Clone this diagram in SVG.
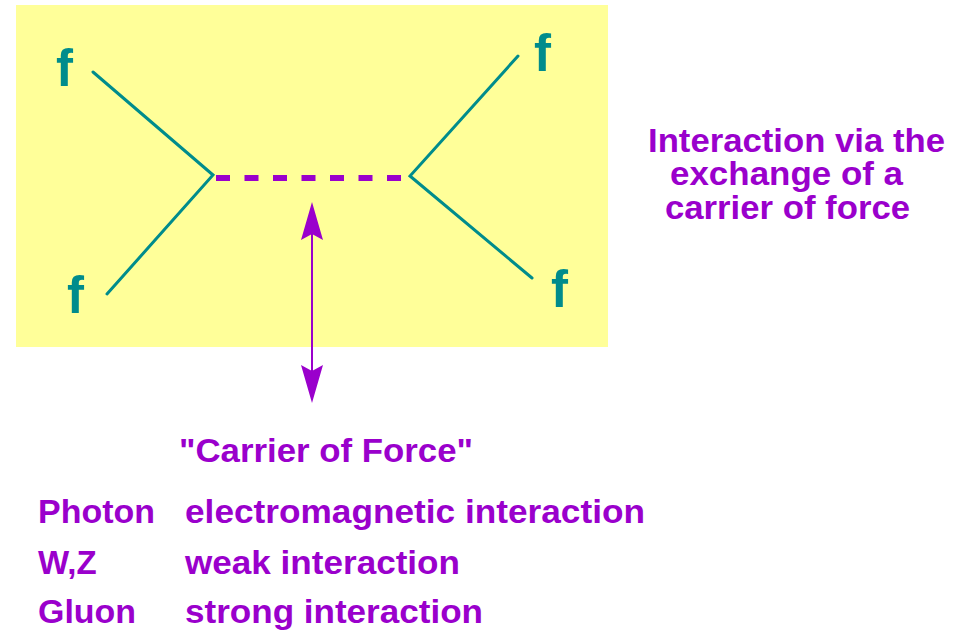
<svg xmlns="http://www.w3.org/2000/svg" width="965" height="630" viewBox="0 0 965 630">
<defs>
<style>
.teal{stroke:#008C8C;stroke-width:3;fill:none;stroke-linecap:round}
.f{font-family:"Liberation Sans",Arial,sans-serif;font-weight:bold;font-size:51px;fill:#008C8C}
.t{font-family:"Liberation Sans",Arial,sans-serif;font-weight:bold;font-size:33px;fill:#9A00CC}
.r{font-family:"Liberation Sans",Arial,sans-serif;font-weight:bold;font-size:33px;fill:#9A00CC}
</style>
<marker id="ah" viewBox="0 0 38 22" markerUnits="userSpaceOnUse" markerWidth="38" markerHeight="22" refX="30" refY="11" orient="auto-start-reverse">
<path d="M0,0 L38,11 L0,22 L6,11 z" fill="#9A00CC"/>
</marker>
</defs>
<rect x="16" y="5" width="592" height="342" fill="#FFFF99"/>
<g id="fermion-lines">
<g id="f-upper-left"><text class="f" x="56" y="86">f</text></g>
<g id="f-lower-left"><text class="f" x="67" y="313">f</text></g>
<g id="f-upper-right"><text class="f" x="534" y="71">f</text></g>
<g id="f-lower-right"><text class="f" x="551" y="307">f</text></g>
</g>
<g id="connectors">
<path class="teal" d="M93,72 L213,175 L107,294"/>
<path class="teal" d="M518,56 L410,176 L532,278"/>
<line x1="216" y1="178" x2="401" y2="178" stroke="#9A00CC" stroke-width="6" stroke-dasharray="14 14.5"/>
<line x1="312" y1="210" x2="312" y2="395" stroke="#9A00CC" stroke-width="2" marker-start="url(#ah)" marker-end="url(#ah)"/>
</g>
<g id="caption-right">
<text class="r" x="648" y="152" textLength="297" lengthAdjust="spacingAndGlyphs">Interaction via the</text>
<text class="r" x="670" y="185" textLength="233" lengthAdjust="spacingAndGlyphs">exchange of a</text>
<text class="r" x="665" y="219" textLength="245" lengthAdjust="spacingAndGlyphs">carrier of force</text>
</g>
<g id="carrier-label">
<text class="t" x="179" y="462" textLength="294" lengthAdjust="spacingAndGlyphs">"Carrier of Force"</text>
</g>
<g id="table">
<text class="t" x="38" y="523" textLength="117" lengthAdjust="spacingAndGlyphs">Photon</text>
<text class="t" x="185" y="523" textLength="460" lengthAdjust="spacingAndGlyphs">electromagnetic interaction</text>
<text class="t" x="38" y="574">W,Z</text>
<text class="t" x="185" y="574" textLength="275" lengthAdjust="spacingAndGlyphs">weak interaction</text>
<text class="t" x="38" y="623" textLength="98" lengthAdjust="spacingAndGlyphs">Gluon</text>
<text class="t" x="185" y="623" textLength="298" lengthAdjust="spacingAndGlyphs">strong interaction</text>
</g>
</svg>
